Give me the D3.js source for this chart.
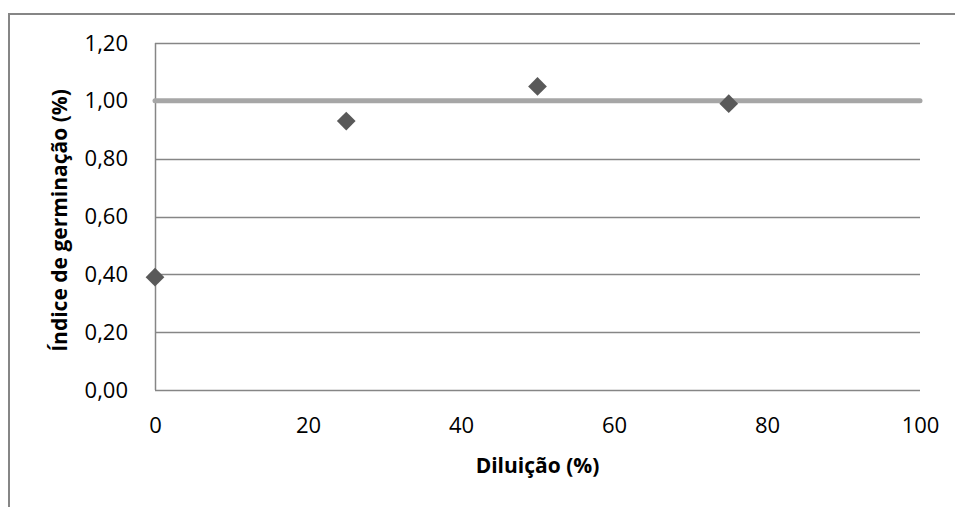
<!DOCTYPE html>
<html>
<head>
<meta charset="utf-8">
<script src="https://cdn.jsdelivr.net/npm/d3@7"></script>
<style>
  html, body { margin: 0; padding: 0; background: #fff; }
  svg { display: block; }
  text { font-family: "Open Sans", "Liberation Sans", sans-serif; fill: #000; }
</style>
</head>
<body>
<svg id="chart" width="955" height="507"></svg>
<script>
// Dilution levels (%) and germination index measured at each
const diluicao = [0, 25, 50, 75];
const indice = [0.39, 0.93, 1.05, 0.99];
// Reference line at index 1.00 across the full dilution range
const referenciaX = [0, 100];
const referenciaY = [1.0, 1.0];
const xTicks = [0, 20, 40, 60, 80, 100];
const yTicks = [0, 0.2, 0.4, 0.6, 0.8, 1.0, 1.2];

const svg = d3.select("#chart");
const margin = { left: 155, right: 35, top: 43, bottom: 117 };
const W = 955, H = 507;

const x = d3.scaleLinear().domain([0, 100]).range([margin.left, W - margin.right]);
const y = d3.scaleLinear().domain([0, 1.2]).range([H - margin.bottom, margin.top]);

// Chart frame
svg.append("path")
  .attr("d", `M9,${H + 2} L9,14 L${W + 2},14`)
  .attr("fill", "none")
  .attr("stroke", "#868686")
  .attr("stroke-width", 2);

const fmt = v => d3.format(".2f")(v).replace(".", ",");

// Horizontal gridlines
svg.append("g")
  .selectAll("line")
  .data(yTicks)
  .join("line")
  .attr("x1", x(0)).attr("x2", x(100))
  .attr("y1", d => Math.round(y(d)) + 0.5).attr("y2", d => Math.round(y(d)) + 0.5)
  .attr("stroke", "#868686")
  .attr("stroke-width", 1.5);

// Y axis line
svg.append("line")
  .attr("x1", x(0) + 0.5).attr("x2", x(0) + 0.5)
  .attr("y1", y(1.2)).attr("y2", y(0))
  .attr("stroke", "#868686")
  .attr("stroke-width", 1.5);

// Y tick labels
const yAxis = d3.axisLeft(y).tickValues(yTicks).tickFormat(fmt).tickSize(0).tickPadding(27);
const gy = svg.append("g").attr("transform", `translate(${x(0)},0)`).call(yAxis);
gy.attr("font-family", null).attr("font-size", null);
gy.select(".domain").remove();
gy.selectAll("text").style("font-size", "22px").attr("fill", "#000");

// X tick labels
const xAxis = d3.axisBottom(x).tickValues(xTicks).tickFormat(d3.format("d")).tickSize(0).tickPadding(27);
const gx = svg.append("g").attr("transform", `translate(0,${y(0)})`).call(xAxis);
gx.attr("font-family", null).attr("font-size", null);
gx.select(".domain").remove();
gx.selectAll("text").style("font-size", "22px").attr("fill", "#000");

// Reference line
svg.append("path")
  .datum(referenciaX.map((d, i) => [d, referenciaY[i]]))
  .attr("d", d3.line().x(d => x(d[0])).y(d => y(d[1])))
  .attr("fill", "none")
  .attr("stroke", "#a6a6a6")
  .attr("stroke-width", 5)
  .attr("stroke-linecap", "round");

// Data markers (diamonds)
const diamond = d3.symbol().type(d3.symbolSquare).size(175);
svg.append("g")
  .selectAll("path")
  .data(diluicao.map((d, i) => [d, indice[i]]))
  .join("path")
  .attr("d", diamond)
  .attr("transform", d => `translate(${x(d[0])},${y(d[1])}) rotate(45)`)
  .attr("fill", "#595959");

// Axis titles
svg.append("text")
  .attr("x", (x(0) + x(100)) / 2)
  .attr("y", 473)
  .attr("text-anchor", "middle")
  .style("font-size", "21px")
  .attr("font-weight", "bold")
  .text("Diluição (%)");

svg.append("text")
  .attr("transform", `translate(67,${(y(0) + y(1.2)) / 2 + 4}) rotate(-90)`)
  .attr("text-anchor", "middle")
  .style("font-size", "21px")
  .attr("font-weight", "bold")
  .text("Índice de germinação (%)");
</script>
</body>
</html>
